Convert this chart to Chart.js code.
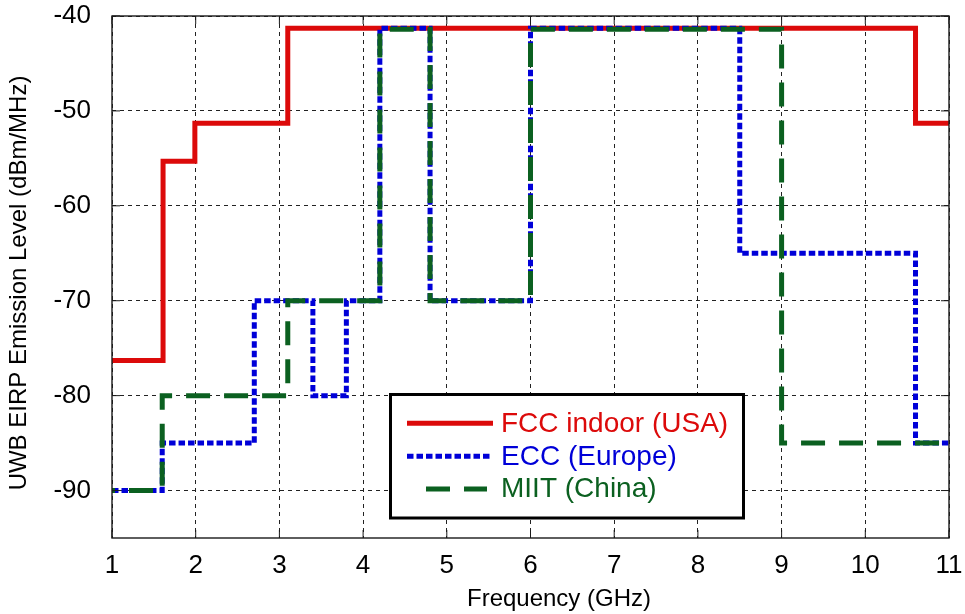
<!DOCTYPE html>
<html><head><meta charset="utf-8">
<script src="https://cdn.jsdelivr.net/npm/chart.js@4.4.0/dist/chart.umd.min.js"></script>
<style>html,body{margin:0;padding:0;background:#fff;overflow:hidden}</style>
</head><body>
<canvas id="c" width="965" height="614"></canvas>
<script>
// ---- data ----
const xTicks = [1, 2, 3, 4, 5, 6, 7, 8, 9, 10, 11];
const yTicks = [-90, -80, -70, -60, -50, -40];
const seriesNames = ['FCC indoor (USA)', 'ECC (Europe)', 'MIIT (China)'];
const xTitle = 'Frequency (GHz)';
const yTitle = 'UWB EIRP Emission Level (dBm/MHz)';
const fccFreq  = [1, 1.61, 1.99, 3.1, 10.6, 11];
const fccLevel = [-76.3, -55.3, -51.3, -41.3, -51.3, -51.3];
const eccFreq  = [1, 1.6, 2.7, 3.4, 3.8, 4.2, 4.8, 6.0, 8.5, 10.6, 11];
const eccLevel = [-90, -85, -70, -80, -70, -41.3, -70, -41.3, -65, -85, -85];
const miitFreq  = [1, 1.6, 3.1, 4.2, 4.8, 6.0, 9.0, 11];
const miitLevel = [-90, -80, -70, -41.4, -70, -41.4, -85, -85];

const FONT = "'Liberation Sans', Arial, Helvetica, sans-serif";
const RED = '#dc0a0a', BLUE = '#0000d8', GREEN = '#0b6020';

function pts(f, l) { return f.map((x, i) => ({ x: x, y: l[i] })); }

const overlay = {
  id: 'overlay',
  afterDraw(chart) {
    const ctx = chart.ctx;
    const { left, right, top, bottom } = chart.chartArea;
    const xs = chart.scales.x, ys = chart.scales.y;
    const line = (a, b, c, d) => { ctx.beginPath(); ctx.moveTo(a, b); ctx.lineTo(c, d); ctx.stroke(); };
    ctx.save();
    // frame
    ctx.setLineDash([]);
    ctx.strokeStyle = '#1a1a1a';
    ctx.lineWidth = 1.4;
    ctx.strokeRect(left, top, right - left, bottom - top);
    ctx.lineWidth = 1;
    xTicks.forEach(v => { const p = xs.getPixelForValue(v); line(p, bottom, p, bottom - 8); line(p, top, p, top + 8); });
    yTicks.forEach(v => { const p = ys.getPixelForValue(v); line(left, p, left + 8, p); line(right, p, right - 8, p); });
    // legend box
    const bx = 390.5, by = 394.5, bw = 353, bh = 123.5;
    ctx.fillStyle = '#fff';
    ctx.fillRect(bx, by, bw, bh);
    ctx.lineWidth = 3;
    ctx.strokeStyle = '#000';
    ctx.strokeRect(bx, by, bw, bh);
    const rows = [423.3, 456.3, 489];
    const x0s = [407, 407, 426], x1s = [493, 491, 487];
    ctx.font = '28px ' + FONT;
    ctx.textAlign = 'left';
    ctx.textBaseline = 'middle';
    chart.data.datasets.forEach((ds, i) => {
      ctx.strokeStyle = ds.borderColor;
      ctx.lineWidth = ds.borderWidth;
      ctx.lineCap = 'butt';
      ctx.setLineDash(ds.borderDash || []);
      ctx.lineDashOffset = 0;
      line(x0s[i], rows[i], x1s[i], rows[i]);
      ctx.setLineDash([]);
      ctx.fillStyle = ds.borderColor;
      ctx.fillText(ds.label, 501, rows[i] + 0.5);
    });
    // axis titles
    ctx.fillStyle = '#000';
    ctx.font = '24px ' + FONT;
    ctx.textAlign = 'center';
    ctx.textBaseline = 'middle';
    ctx.fillText(xTitle, 559, 599);
    ctx.translate(19, 283);
    ctx.rotate(-Math.PI / 2);
    ctx.fillText(yTitle, 0, 0);
    ctx.restore();
  }
};

const tickFont = { family: FONT, size: 26 };
function zeroPad(s) { s.paddingTop = 0; s.paddingBottom = 0; s.paddingLeft = 0; s.paddingRight = 0; }

new Chart(document.getElementById('c'), {
  type: 'line',
  data: {
    datasets: [
      { label: seriesNames[0], data: pts(fccFreq, fccLevel), borderColor: RED, borderWidth: 5,
        stepped: 'before', pointRadius: 0, fill: false, order: 3, borderJoinStyle: 'miter', borderCapStyle: 'butt' },
      { label: seriesNames[1], data: pts(eccFreq, eccLevel), borderColor: BLUE, borderWidth: 5, borderDash: [6.5, 3],
        stepped: 'before', pointRadius: 0, fill: false, order: 2, borderJoinStyle: 'miter', borderCapStyle: 'butt' },
      { label: seriesNames[2], data: pts(miitFreq, miitLevel), borderColor: GREEN, borderWidth: 5, borderDash: [24, 14],
        borderDashOffset: 21, stepped: 'before', pointRadius: 0, fill: false, order: 1, borderJoinStyle: 'miter', borderCapStyle: 'butt' }
    ]
  },
  options: {
    responsive: false,
    animation: false,
    devicePixelRatio: 1,
    layout: { padding: { left: 0, right: 16, top: 16, bottom: 0 } },
    plugins: { legend: { display: false }, tooltip: { enabled: false } },
    scales: {
      x: {
        type: 'linear', min: 1, max: 11,
        afterBuildTicks: s => { s.ticks = xTicks.map(v => ({ value: v })); },
        afterFit: s => { s.height = 76; zeroPad(s); },
        ticks: { font: tickFont, color: '#000', padding: 12, maxRotation: 0, autoSkip: false, callback: v => String(v) },
        grid: { color: '#222', lineWidth: 1, drawTicks: false },
        border: { display: false, dash: [4, 4] }
      },
      y: {
        type: 'linear', min: -95, max: -40,
        afterBuildTicks: s => { s.ticks = yTicks.map(v => ({ value: v })); },
        afterFit: s => { s.width = 112; zeroPad(s); },
        ticks: { font: tickFont, color: '#000', padding: 21, autoSkip: false, callback: v => String(v) },
        grid: { color: '#222', lineWidth: 1, drawTicks: false },
        border: { display: false, dash: [4, 4] }
      }
    }
  },
  plugins: [overlay]
});
</script>
</body></html>
